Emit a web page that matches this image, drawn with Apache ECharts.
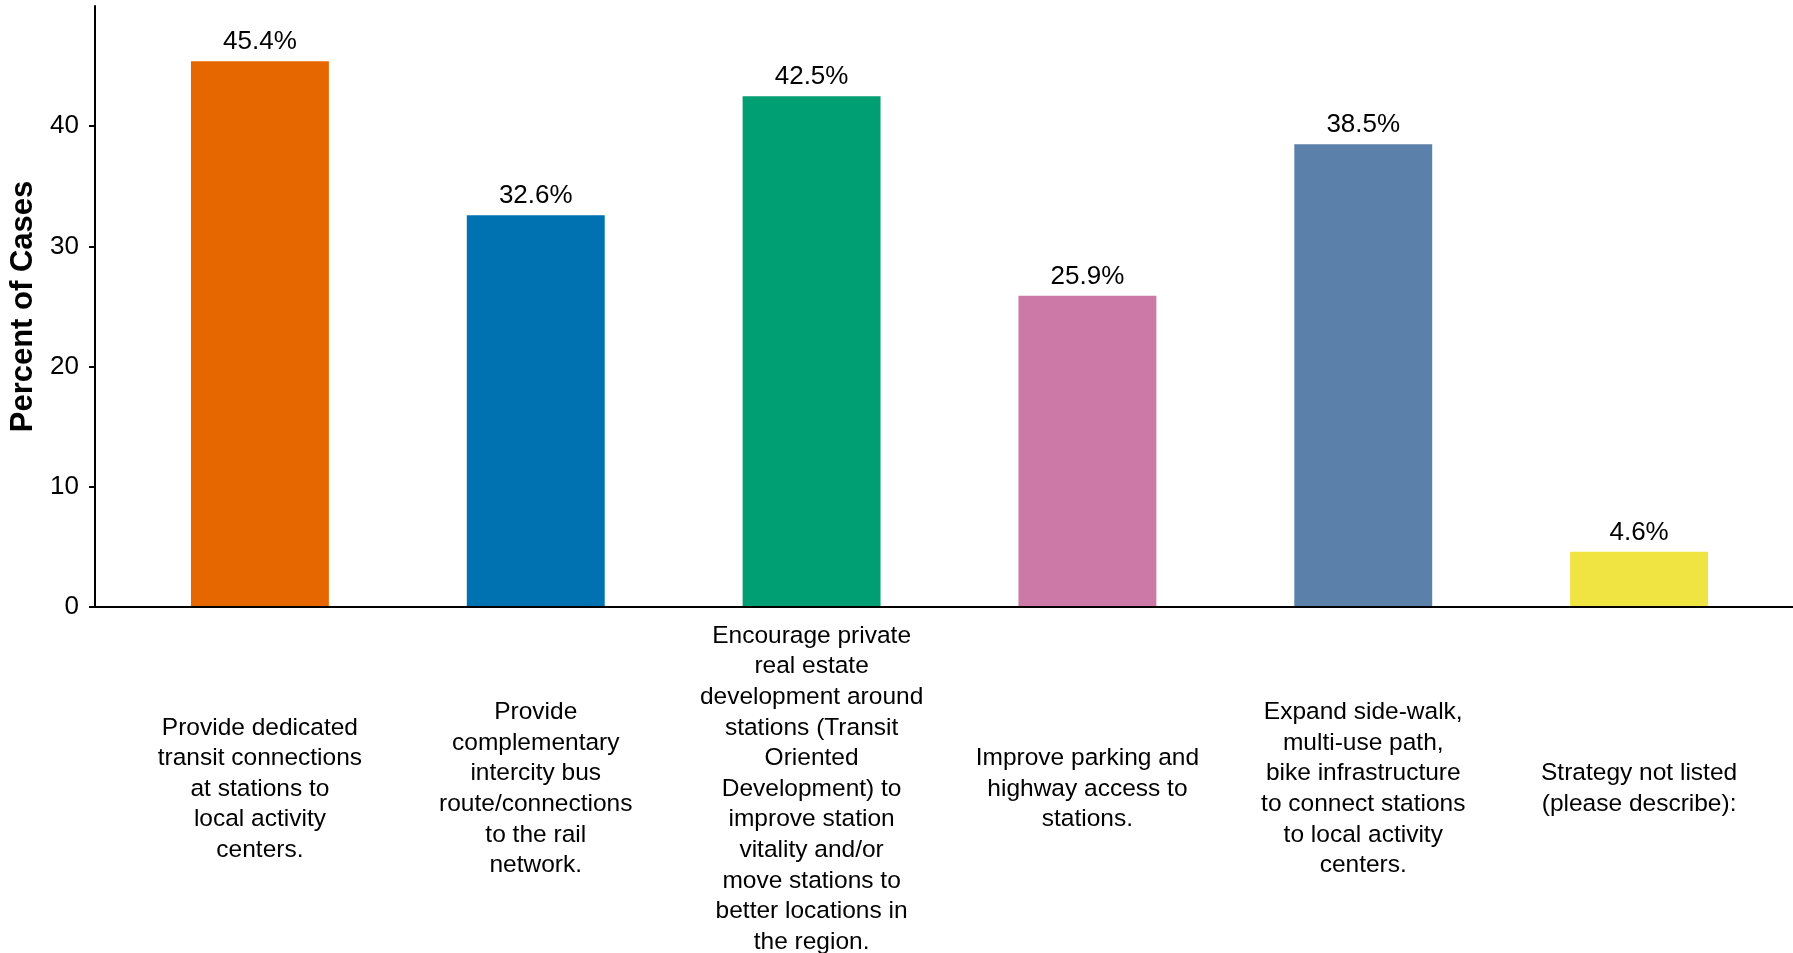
<!DOCTYPE html>
<html>
<head>
<meta charset="utf-8">
<script src="https://cdn.jsdelivr.net/npm/echarts@6/dist/echarts.min.js"></script>
<style>
html,body{margin:0;padding:0;background:#fff;}
#chart{width:1793px;height:953px;}
</style>
</head>
<body>
<div id="chart"></div>
<script>
const categories = [
  "Provide dedicated\ntransit connections\nat stations to\nlocal activity\ncenters.",
  "Provide\ncomplementary\nintercity bus\nroute/connections\nto the rail\nnetwork.",
  "Encourage private\nreal estate\ndevelopment around\nstations (Transit\nOriented\nDevelopment) to\nimprove station\nvitality and/or\nmove stations to\nbetter locations in\nthe region.",
  "Improve parking and\nhighway access to\nstations.",
  "Expand side-walk,\nmulti-use path,\nbike infrastructure\nto connect stations\nto local activity\ncenters.",
  "Strategy not listed\n(please describe):"
];
const values = [45.4, 32.6, 42.5, 25.9, 38.5, 4.6];
const barColors = ["#E66700", "#0072B2", "#009E73", "#CC79A7", "#5B80A9", "#F0E442"];
const yTicks = [0, 10, 20, 30, 40];

const FONT = "'Liberation Sans', Helvetica, Arial, sans-serif";
const chart = echarts.init(document.getElementById('chart'), null, {renderer: 'canvas'});

chart.setOption({
  animation: false,
  backgroundColor: '#ffffff',
  textStyle: {fontFamily: FONT},
  grid: [
    {left: 122, right: 16, top: 6, bottom: 346, containLabel: false, outerBoundsMode: 'none'},
    {left: 95, right: 0, top: 6, bottom: 346, containLabel: false, outerBoundsMode: 'none'}
  ],
  xAxis: [
    {
      type: 'category',
      gridIndex: 0,
      data: categories,
      axisLine: {show: false},
      axisTick: {show: false},
      axisLabel: {
        interval: 0,
        margin: 182,
        verticalAlign: 'middle',
        align: 'center',
        lineHeight: 30.6,
        fontSize: 24.5,
        color: '#000',
        fontFamily: FONT
      },
      splitLine: {show: false}
    },
    {
      type: 'value',
      gridIndex: 1,
      min: 0,
      max: 1,
      z: 10,
      axisLine: {show: true, lineStyle: {color: '#000', width: 2}},
      axisTick: {show: false},
      axisLabel: {show: false},
      splitLine: {show: false}
    }
  ],
  yAxis: [
    {
      type: 'value',
      gridIndex: 0,
      min: 0,
      max: 50,
      interval: 10,
      offset: 27,
      name: 'Percent of Cases',
      nameLocation: 'middle',
      nameGap: 49,
      nameTextStyle: {fontSize: 31, fontWeight: 'bold', color: '#000', fontFamily: FONT},
      axisLine: {show: true, lineStyle: {color: '#000', width: 2}},
      axisTick: {show: true, length: 6, lineStyle: {color: '#000', width: 2}, customValues: yTicks},
      axisLabel: {fontSize: 26, color: '#000', margin: 16, customValues: yTicks, fontFamily: FONT},
      splitLine: {show: false}
    },
    {
      type: 'value',
      gridIndex: 1,
      show: false,
      min: 0,
      max: 50
    }
  ],
  series: [
    {
      type: 'bar',
      xAxisIndex: 0,
      yAxisIndex: 0,
      barWidth: '50%',
      data: values.map((v, i) => ({value: v, itemStyle: {color: barColors[i]}})),
      label: {
        show: true,
        position: 'top',
        distance: 6,
        formatter: p => p.value.toFixed(1) + '%',
        fontSize: 26,
        color: '#000',
        fontFamily: FONT
      }
    }
  ]
});
</script>
</body>
</html>
